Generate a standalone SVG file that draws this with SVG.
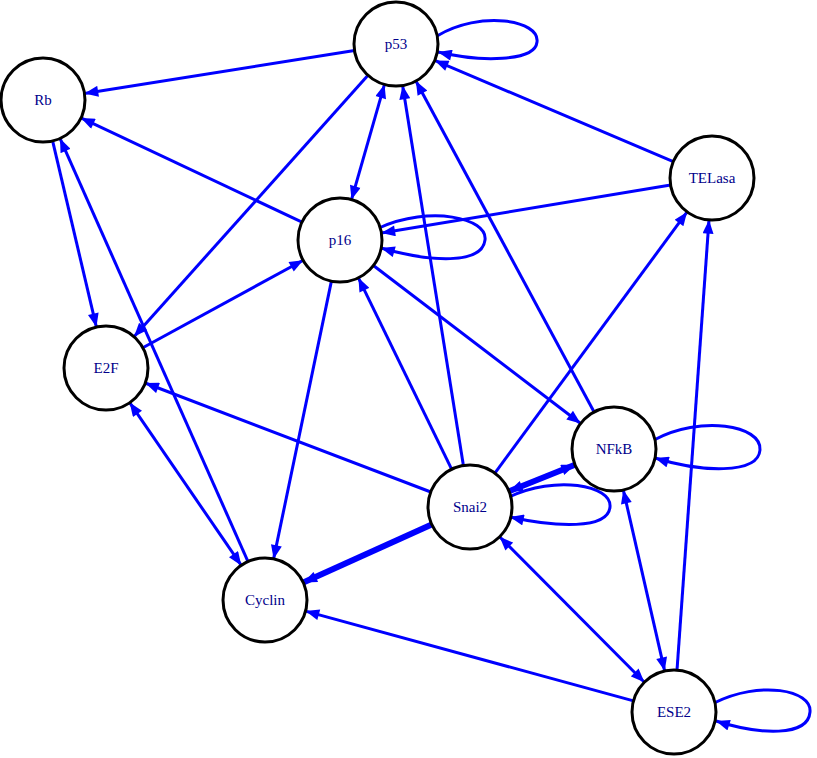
<svg xmlns="http://www.w3.org/2000/svg" width="817" height="758" viewBox="0 0 817 758">
<style>
.n{fill:#fff;stroke:#000;stroke-width:3}
.t{font-family:"Liberation Serif",serif;font-size:15px;fill:#00008b;text-anchor:middle;dominant-baseline:central}
.e{stroke:#0000ff;stroke-width:3;fill:none;marker-end:url(#a)}
.b{marker-start:url(#a)}
.k{stroke-width:6}
</style>
<defs>
<marker id="a" viewBox="0 0 10 8" refX="10" refY="4" markerWidth="15" markerHeight="11" markerUnits="userSpaceOnUse" orient="auto-start-reverse">
<path d="M0,0 L10,4 L0,8 z" fill="#0000ff"/>
</marker>
</defs>
<rect width="817" height="758" fill="#fff"/>
<g id="edges">
<line class="e" x1="354.5" y1="50.6" x2="84.5" y2="93.4"/>
<line class="e b" x1="384.5" y1="84.4" x2="351.5" y2="199.6"/>
<line class="e" x1="368" y1="75.3" x2="134" y2="336.7"/>
<line class="e" x1="673.3" y1="161.6" x2="434.7" y2="60.4"/>
<line class="e" x1="670.6" y1="184.9" x2="381.4" y2="233.1"/>
<line class="e" x1="302" y1="222.1" x2="81" y2="117.9"/>
<line class="e" x1="373.4" y1="265.5" x2="580.6" y2="423.5"/>
<line class="e" x1="331.4" y1="281.1" x2="273.6" y2="558.9"/>
<line class="e" x1="142.8" y1="347.8" x2="303.2" y2="260.2"/>
<line class="e" x1="52.6" y1="140.9" x2="96.4" y2="327.1"/>
<line class="e" x1="248" y1="561.6" x2="60" y2="138.4"/>
<line class="e b" x1="129.7" y1="402.6" x2="241.3" y2="565.4"/>
<line class="e" x1="430.8" y1="492" x2="145.2" y2="383"/>
<line class="e" x1="451.6" y1="469.2" x2="358.4" y2="277.8"/>
<line class="e" x1="463.4" y1="465.5" x2="402.6" y2="85.5"/>
<line class="e" x1="494.9" y1="473.1" x2="687.1" y2="211.9"/>
<line class="e b k" x1="509" y1="491.3" x2="575" y2="464.7"/>
<line class="e k" x1="431.7" y1="524.4" x2="303.3" y2="582.6"/>
<line class="e b" x1="499.6" y1="536.8" x2="644.4" y2="682.2"/>
<line class="e" x1="594.1" y1="412" x2="415.9" y2="81"/>
<line class="e b" x1="623.3" y1="489.9" x2="664.7" y2="671.1"/>
<line class="e" x1="677" y1="670.1" x2="709" y2="219.9"/>
<line class="e" x1="633.5" y1="700.9" x2="305.5" y2="611.1"/>
<path class="e" d="M437,36 C480,10 540,20 537,42 C535,62 480,62 438,52"/>
<path class="e" d="M379,228 C430,205 488,218 485,240 C482,265 430,262 381,248"/>
<path class="e" d="M654,440 C700,415 762,425 760,450 C758,475 700,472 655,458"/>
<path class="e" d="M509,497 C555,475 612,485 610,507 C608,530 555,527 510,517"/>
<path class="e" d="M714,703 C760,680 812,690 810,712 C808,737 760,735 716,721"/>
</g>
<g id="p53"><circle class="n" cx="396" cy="44" r="42"/><text class="t" x="396" y="44">p53</text></g>
<g id="Rb"><circle class="n" cx="43" cy="100" r="42"/><text class="t" x="43" y="100">Rb</text></g>
<g id="TELasa"><circle class="n" cx="712" cy="178" r="42"/><text class="t" x="712" y="178">TELasa</text></g>
<g id="p16"><circle class="n" cx="340" cy="240" r="42"/><text class="t" x="340" y="240">p16</text></g>
<g id="E2F"><circle class="n" cx="106" cy="368" r="42"/><text class="t" x="106" y="368">E2F</text></g>
<g id="NFkB"><circle class="n" cx="614" cy="449" r="42"/><text class="t" x="614" y="449">NFkB</text></g>
<g id="Snai2"><circle class="n" cx="470" cy="507" r="42"/><text class="t" x="470" y="507">Snai2</text></g>
<g id="Cyclin"><circle class="n" cx="265" cy="600" r="42"/><text class="t" x="265" y="600">Cyclin</text></g>
<g id="ESE2"><circle class="n" cx="674" cy="712" r="42"/><text class="t" x="674" y="712">ESE2</text></g>
</svg>
